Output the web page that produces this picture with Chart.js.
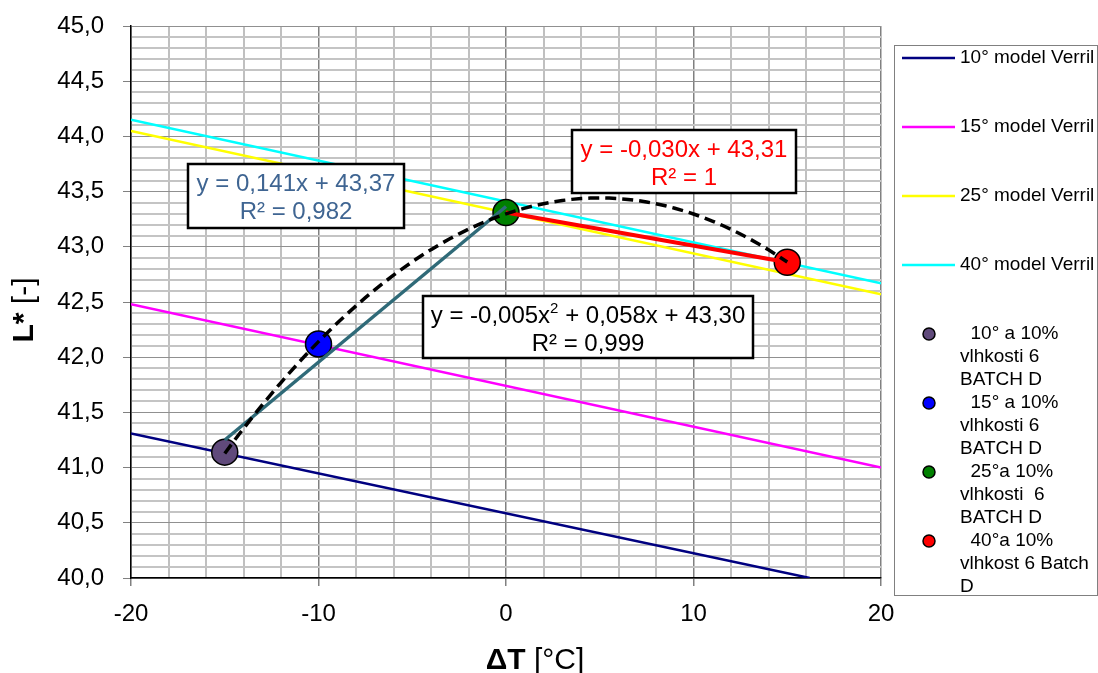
<!DOCTYPE html>
<html>
<head>
<meta charset="utf-8">
<script src="https://cdn.jsdelivr.net/npm/chart.js@4.4.1/dist/chart.umd.min.js"></script>
<style>
  html, body { margin: 0; padding: 0; background: #fff; }
</style>
</head>
<body>
<canvas id="chart" width="1098" height="673"></canvas>
<script>
// measured points: dT [°C] vs L*
const pointX = [-15, -10, 0, 15];
const pointL = [41.14, 42.12, 43.31, 42.86];
const pointNames = [
  ['  10° a 10%', 'vlhkosti 6', 'BATCH D'],
  ['  15° a 10%', 'vlhkosti 6', 'BATCH D'],
  ['  25°a 10%', 'vlhkosti  6', 'BATCH D'],
  ['  40°a 10%', 'vlhkost 6 Batch', 'D']
];

// Verril model lines (end points)
const modelNames = ['10° model Verril', '15° model Verril', '25° model Verril', '40° model Verril'];
const model10X = [-20, 16.2];
const model10L = [41.31, 40.0];
const model15X = [-20, 20];
const model15L = [42.48, 41.0];
const model25X = [-20, 20];
const model25L = [44.05, 42.57];
const model40X = [-20, 20];
const model40L = [44.15, 42.67];

// trendline equations as printed
const fitLeftText = ['y = 0,141x + 43,37', 'R² = 0,982'];
const fitRightText = ['y = -0,030x + 43,31', 'R² = 1'];
const fitPolyText = [[['y = -0,005x', 0], ['2', 1], [' + 0,058x + 43,30', 0]], [['R² = 0,999', 0]]];

// axis ticks
const xMajorTicks = [-20, -10, 0, 10, 20];
const yMin = 40, yMax = 45;

const FONT = "'Liberation Sans', Arial, sans-serif";
const modelColors = ['#000080', '#ff00ff', '#ffff00', '#00ffff'];
const pointColors = ['#604a7b', '#0000ff', '#008000', '#ff0000'];

function toPts(xs, ys) { return xs.map((x, i) => ({ x: x, y: ys[i] })); }

// least squares straight line
function linFit(xs, ys) {
  const n = xs.length;
  const mx = xs.reduce((a, b) => a + b, 0) / n;
  const my = ys.reduce((a, b) => a + b, 0) / n;
  let sxy = 0, sxx = 0;
  xs.forEach((x, i) => { sxy += (x - mx) * (ys[i] - my); sxx += (x - mx) * (x - mx); });
  const k = sxy / sxx;
  return { k: k, q: my - k * mx };
}

// least squares parabola (normal equations, Cramer)
function quadFit(xs, ys) {
  let s0 = 0, s1 = 0, s2 = 0, s3 = 0, s4 = 0, t0 = 0, t1 = 0, t2 = 0;
  xs.forEach((x, i) => {
    const y = ys[i];
    s0 += 1; s1 += x; s2 += x * x; s3 += x * x * x; s4 += x * x * x * x;
    t0 += y; t1 += x * y; t2 += x * x * y;
  });
  const det3 = m => m[0][0] * (m[1][1] * m[2][2] - m[1][2] * m[2][1])
                  - m[0][1] * (m[1][0] * m[2][2] - m[1][2] * m[2][0])
                  + m[0][2] * (m[1][0] * m[2][1] - m[1][1] * m[2][0]);
  const M = [[s4, s3, s2], [s3, s2, s1], [s2, s1, s0]];
  const T = [t2, t1, t0];
  const D = det3(M);
  const col = j => M.map((r, i) => r.map((v, c) => c === j ? T[i] : v));
  return { a: det3(col(0)) / D, b: det3(col(1)) / D, c: det3(col(2)) / D };
}

const leftFit = linFit(pointX.slice(0, 3), pointL.slice(0, 3));
const rightFit = linFit(pointX.slice(2), pointL.slice(2));
const poly = quadFit(pointX, pointL);

const curvePts = [];
for (let x = pointX[0]; x <= pointX[3] + 1e-9; x += 0.5) {
  curvePts.push({ x: x, y: poly.a * x * x + poly.b * x + poly.c });
}

const datasets = [];
[[model10X, model10L], [model15X, model15L], [model25X, model25L], [model40X, model40L]].forEach((m, i) => {
  datasets.push({
    label: modelNames[i], data: toPts(m[0], m[1]), showLine: true,
    borderColor: modelColors[i], borderWidth: 2.5, pointRadius: 0, order: 3
  });
});
pointX.forEach((x, i) => {
  datasets.push({
    label: pointNames[i].join(' '), data: [{ x: x, y: pointL[i] }], showLine: false,
    backgroundColor: pointColors[i], borderColor: '#000', borderWidth: 1.5,
    pointRadius: 13, order: 2
  });
});
datasets.push({
  label: 'poly', data: curvePts, showLine: true, borderColor: '#000', borderWidth: 3.5,
  borderDash: [11, 6], pointRadius: 0, order: 1
});
datasets.push({
  label: 'lin1', data: [pointX[0], pointX[2]].map(x => ({ x: x, y: leftFit.k * x + leftFit.q })),
  showLine: true, borderColor: '#2f6a78', borderWidth: 3.5, pointRadius: 0, order: 1
});
datasets.push({
  label: 'lin2', data: [pointX[2], pointX[3]].map(x => ({ x: x, y: rightFit.k * x + rightFit.q })),
  showLine: true, borderColor: '#ff0000', borderWidth: 4, pointRadius: 0, order: 1
});

const isXMajor = v => xMajorTicks.indexOf(v) >= 0;
const isYMajor = v => Math.abs(v * 2 - Math.round(v * 2)) < 1e-6;

// widths of mixed-weight text pieces: [text, bold]
function pieceWidths(ctx, pieces, size) {
  return pieces.map(p => { ctx.font = (p[1] ? 'bold ' : '') + size + 'px ' + FONT; return ctx.measureText(p[0]).width; });
}

function drawEqBox(ctx, box, lines, color) {
  ctx.fillStyle = '#fff';
  ctx.fillRect(box.x, box.y, box.w, box.h);
  ctx.strokeStyle = '#000';
  ctx.lineWidth = 2.5;
  ctx.strokeRect(box.x, box.y, box.w, box.h);
  ctx.fillStyle = color;
  ctx.textBaseline = 'middle';
  ctx.textAlign = 'left';
  const cx = box.x + box.w / 2;
  lines.forEach((parts, li) => {
    if (typeof parts === 'string') parts = [[parts, 0]];
    const widths = parts.map(p => {
      ctx.font = (p[1] ? 15 : 24) + 'px ' + FONT;
      return ctx.measureText(p[0]).width;
    });
    let x = cx - widths.reduce((a, b) => a + b, 0) / 2;
    const y = box.y + 20 + li * 28;
    parts.forEach((p, i) => {
      ctx.font = (p[1] ? 15 : 24) + 'px ' + FONT;
      ctx.fillText(p[0], x, p[1] ? y - 7 : y);
      x += widths[i];
    });
  });
}

const overlay = {
  id: 'overlay',
  afterDraw(chart) {
    const ctx = chart.ctx;
    ctx.save();

    // equation boxes
    drawEqBox(ctx, { x: 188, y: 164, w: 216, h: 64 }, fitLeftText, '#3f6592');
    drawEqBox(ctx, { x: 572, y: 130, w: 224, h: 63 }, fitRightText, '#ff0000');
    drawEqBox(ctx, { x: 423, y: 296, w: 330, h: 62 }, fitPolyText, '#000');

    // axis titles
    ctx.fillStyle = '#000';
    ctx.textBaseline = 'alphabetic';
    ctx.textAlign = 'left';
    let pieces = [['ΔT', 1], [' [°C]', 0]];
    let w = pieceWidths(ctx, pieces, 30);
    let x = 535 - (w[0] + w[1]) / 2;
    pieces.forEach((p, i) => {
      ctx.font = (p[1] ? 'bold ' : '') + '30px ' + FONT;
      ctx.fillText(p[0], x, 669);
      x += w[i];
    });
    ctx.save();
    ctx.translate(33, 310);
    ctx.rotate(-Math.PI / 2);
    pieces = [['L*', 1], [' [-]', 0]];
    w = pieceWidths(ctx, pieces, 30);
    x = -(w[0] + w[1]) / 2;
    pieces.forEach((p, i) => {
      ctx.font = (p[1] ? 'bold ' : '') + '30px ' + FONT;
      ctx.fillText(p[0], x, 0);
      x += w[i];
    });
    ctx.restore();

    // legend
    ctx.strokeStyle = '#808080';
    ctx.lineWidth = 1;
    ctx.strokeRect(894.5, 45.5, 203, 550);
    ctx.font = '19px ' + FONT;
    ctx.textBaseline = 'middle';
    modelNames.forEach((name, i) => {
      const y = 58 + i * 69;
      ctx.strokeStyle = modelColors[i];
      ctx.lineWidth = 2.5;
      ctx.beginPath();
      ctx.moveTo(902, y);
      ctx.lineTo(955, y);
      ctx.stroke();
      ctx.fillStyle = '#000';
      ctx.fillText(name, 960, y);
    });
    pointNames.forEach((lines, i) => {
      const y = 334 + i * 69;
      ctx.beginPath();
      ctx.arc(929, y, 6, 0, Math.PI * 2);
      ctx.fillStyle = pointColors[i];
      ctx.fill();
      ctx.strokeStyle = '#000';
      ctx.lineWidth = 1.5;
      ctx.stroke();
      ctx.fillStyle = '#000';
      lines.forEach((t, j) => ctx.fillText(t, 960, y + j * 23));
    });
    ctx.restore();
  }
};

new Chart(document.getElementById('chart'), {
  type: 'scatter',
  data: { datasets: datasets },
  options: {
    responsive: false,
    animation: false,
    layout: { padding: { top: 26, right: 217, left: 0, bottom: 0 } },
    plugins: { legend: { display: false }, tooltip: { enabled: false } },
    scales: {
      x: {
        type: 'linear', min: -20, max: 20,
        afterFit(scale) { scale.height = 95; scale.paddingLeft = 0; scale.paddingRight = 0; },
        ticks: {
          stepSize: 2, autoSkip: false, maxRotation: 0, padding: 14, color: '#000',
          font: { family: FONT, size: 24 },
          callback: v => isXMajor(v) ? String(v) : ''
        },
        grid: {
          color: c => isXMajor(c.tick.value) ? '#808080' : '#c0c0c0',
          lineWidth: c => isXMajor(c.tick.value) ? 1.5 : 2,
          tickLength: 8,
          tickColor: c => isXMajor(c.tick.value) ? '#808080' : 'rgba(0,0,0,0)'
        },
        border: { color: '#000', width: 1.5 }
      },
      y: {
        type: 'linear', min: yMin, max: yMax,
        afterFit(scale) { scale.width = 131; scale.paddingTop = 0; scale.paddingBottom = 0; },
        ticks: {
          stepSize: 0.1, autoSkip: false, padding: 19, color: '#000',
          font: { family: FONT, size: 24 },
          callback: v => isYMajor(v) ? v.toFixed(1).replace('.', ',') : ''
        },
        grid: {
          color: c => isYMajor(c.tick.value) ? '#909090' : '#c4c4c4',
          lineWidth: c => isYMajor(c.tick.value) ? 1 : 2,
          tickLength: 8,
          tickColor: c => isYMajor(c.tick.value) ? '#808080' : 'rgba(0,0,0,0)'
        },
        border: { color: '#000', width: 1.5 }
      }
    }
  },
  plugins: [overlay]
});
</script>
</body>
</html>
